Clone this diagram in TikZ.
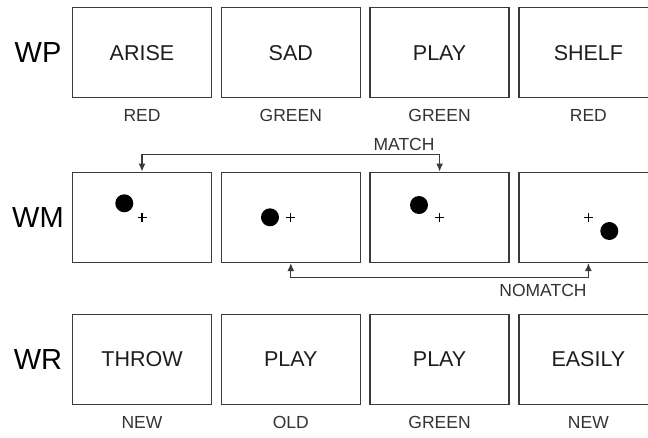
\documentclass[tikz,border=0pt]{standalone}
\usepackage{fontspec}
\setmainfont{Liberation Sans}
\usetikzlibrary{arrows.meta,positioning}
\definecolor{cardLine}{HTML}{3A3A3A}
\definecolor{cardInk}{HTML}{1E1E1E}
\definecolor{tagInk}{HTML}{333333}

\begin{document}
\begin{tikzpicture}[x=1pt,y=-1pt,>={Latex[length=8pt,width=7pt]},line join=miter]
\path[use as bounding box,fill=white] (0,0) rectangle (648,437);
\clip (0,0) rectangle (648,437);
\tikzset{card/.style={draw=cardLine,line width=1.5pt,minimum width=139pt,minimum height=90pt,inner sep=0pt,text=cardInk,font=\fontsize{21.5}{25}\selectfont},tag/.style={inner sep=0pt,text=tagInk,font=\fontsize{17.5}{21}\selectfont},rowname/.style={inner sep=0pt,text=black,font=\fontsize{29}{34}\selectfont},link/.style={draw=cardLine,line width=1.3pt},dot/.style={fill=black},fix/.style={draw=black,line width=1.1pt}}
% row WP
\node[rowname] (wp) at (38,52.7) {WP};
\foreach \i/\w/\c in {1/ARISE/RED,2/SAD/GREEN,3/PLAY/GREEN,4/SHELF/RED}{
  \node[card] (p\i) at ({142+148.8*(\i-1)},52.7) {\w};
  \node[tag,below=11pt of p\i] (pc\i) {\c};
}
% row WM
\node[rowname] (wm) at (38,217.3) {WM};
\foreach \i/\dx/\dy in {1/-17.7/-14,2/-20.8/0,3/-20.6/-12.3,4/20.9/13.7}{
  \node[card] (m\i) at ({142+148.8*(\i-1)},217.3) {};
  \fill[dot] ([shift={(\dx,\dy)}]m\i.center) circle (9);
  \draw[fix] ([shift={(-4.5,0)}]m\i.center) -- ([shift={(4.5,0)}]m\i.center) ([shift={(0,-4.5)}]m\i.center) -- ([shift={(0,4.5)}]m\i.center);
}
\draw[link,<->] (m1.north) -- ++(0,-17.4) -| (m3.north);
\node[tag] (matchlbl) at (404,144) {MATCH};
\draw[link,<->] (m2.south) -- ++(0,14.7) -| (m4.south);
\node[tag] (nomatchlbl) at (543,290.7) {NOMATCH};
% row WR
\node[rowname] (wr) at (38,359.3) {WR};
\foreach \i/\w/\c in {1/THROW/NEW,2/PLAY/OLD,3/PLAY/GREEN,4/EASILY/NEW}{
  \node[card] (r\i) at ({142+148.8*(\i-1)},359.3) {\w};
  \node[tag,below=11pt of r\i] (rc\i) {\c};
}
\end{tikzpicture}
\end{document}
